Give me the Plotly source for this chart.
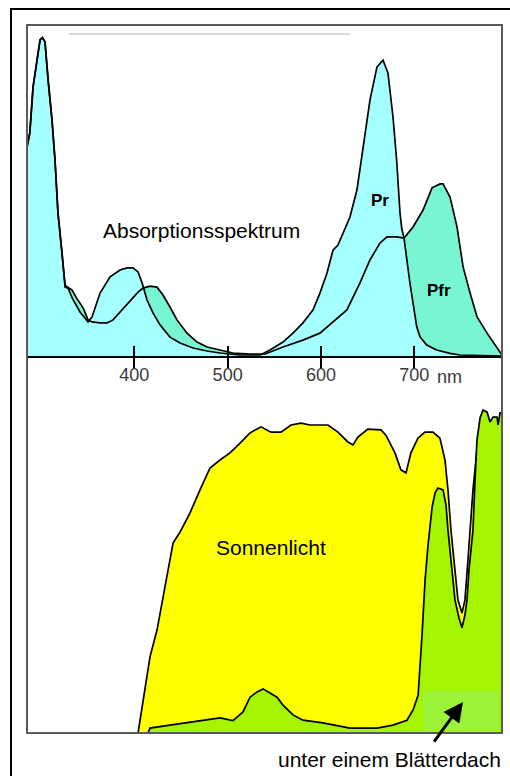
import plotly.graph_objects as go

# ---------------- data (wavelength in nm, relative units) ----------------
pr_nm = [285, 288, 291.5, 295.8, 299, 301.4, 304.3, 307.6, 311.8, 315, 318.2, 322.5, 325.8, 329,
         333.5, 341.8, 350.4, 354.7, 363.3, 374, 384.7, 392.2, 398.6, 404, 408.3, 413.6, 420, 427.5,
         438.2, 449, 462.9, 477.9, 491.8, 513, 535, 545.4, 559.3, 570, 580.7, 591.4, 598.9, 606.5,
         612.9, 618.2, 623.6, 631.1, 638.6, 645, 652.5, 660, 666.5, 671.8, 677.2, 681.1, 684.7,
         686.6, 689, 695.4, 702.6, 706.1, 713.3, 724, 738.3, 749, 794]
pr_val = [63.1, 67.4, 81.3, 90.3, 95.5, 96.2, 94.9, 83.4, 71.3, 59.2, 43.2, 31.1, 20.8, 20.5,
          17.5, 13.3, 10.3, 11.8, 19.0, 23.9, 26.0, 26.6, 26.6, 25.4, 22.1, 16.9, 13.0, 9.4,
          5.7, 3.9, 2.4, 1.5, 0.9, 0.3, 0.3, 1.8, 4.2, 6.9, 10.0, 13.9, 19.0, 25.1,
          32.0, 33.5, 37.2, 42.0, 50.2, 62.2, 77.3, 87.3, 89.4, 85.5, 72.2, 59.2, 43.2,
          38.5, 35.6, 21.9, 8.8, 5.8, 3.3, 1.8, 0.8, 0.3, 0]

pfr_nm = [285, 288, 291.5, 295.8, 299, 301.4, 304.3, 307.6, 311.8, 315, 318.2, 322.5, 325.8, 327.8,
          333.3, 338.3, 341.8, 345.4, 350.4, 354.7, 363.3, 370.8, 377.2, 384.7, 392.2, 398.6, 404,
          409.3, 416.8, 424.3, 430.7, 438.2, 445.7, 456.5, 467.2, 477.9, 491.8, 505.7, 524, 540.3,
          559.3, 580.7, 598.9, 609.6, 627.8, 641.8, 652.5, 663.2, 670.7, 681.4, 689, 698.7, 709.4,
          719, 727.6, 730.8, 738.3, 745.8, 752.3, 759.8, 767.3, 778, 788.7, 794]
pfr_val = [63.1, 67.4, 81.3, 90.3, 95.5, 96.2, 94.9, 83.4, 71.3, 59.2, 43.2, 31.1, 21.5, 20.9,
           19.9, 17.4, 16.0, 14.4, 10.9, 10.3, 10.0, 10.0, 10.9, 13.3, 15.4, 17.5, 19.3,
           20.5, 21.1, 20.8, 18.4, 14.8, 10.9, 6.9, 4.2, 2.7, 1.8, 0.9, 0.6, 0.6,
           2.7, 4.8, 6.9, 9.4, 13.9, 22.1, 29.0, 34.1, 36.0, 36.0, 35.6, 39.0, 44.1,
           50.8, 52.0, 52.0, 48.0, 39.0, 26.9, 19.0, 11.8, 6.9, 2.7, 0.3]

sun_nm = [404.0, 409.3, 416.8, 424.3, 430.7, 435, 438.2, 441.5, 449, 459.7, 470.4, 481.1, 491.8,
          502.5, 513.3, 524, 529.6, 535.8, 546.4, 557.2, 567.9, 578.6, 588.3, 607.5, 618.2, 628.9,
          634.3, 639.6, 650.3, 664.3, 669.6, 679.3, 685.7, 691.1, 696.4, 703.9, 711.4, 720,
          727.5, 732.9, 736.1, 739.3, 743.6, 746.8, 751.1, 754.3, 757.5, 759.7, 762.9, 767.2,
          770.5, 776, 782, 788, 794]
sun_val = [0, 8.8, 20.2, 27.3, 36.1, 42.4, 45.9, 50.4, 53.3, 58.4, 64.5, 70.3, 72.4,
           74.3, 76.9, 79.6, 80.4, 81.2, 79.8, 79.8, 81.7, 82.2, 81.7, 81.7, 79.8, 77.2,
           76.4, 78.5, 80.6, 80.4, 79.0, 74.3, 69.8, 69.0, 74.3, 78.2, 79.8, 79.8,
           78.2, 72.4, 64.5, 53.8, 43.2, 35.3, 31.8, 35.3, 45.9, 53.8, 64.5, 75.1,
           80.9, 80.0, 79.0, 80.0, 80.0]

canopy_nm = [414.7, 416.8, 438.2, 470.4, 491.8, 505.7, 516.5, 524, 531.5, 538, 552.9, 559.3, 570,
             580.7, 602.2, 631.1, 660, 677.2, 692.2, 698.7, 704.1, 708.3, 711.6, 714.8, 719.1,
             722.3, 725.4, 730.8, 734.0, 736.1, 740.4, 743.6, 747.9, 751.1, 754.3, 756.5, 758.6,
             760.8, 762.9, 765.1, 767.2, 770.5, 773.7, 778, 781.2, 784.4, 788.7, 789.8, 791.9, 794]
canopy_val = [0, 1.3, 2.1, 3.3, 4.0, 3.3, 5.6, 9.5, 10.9, 11.7, 9.5, 7.4, 4.8,
              3.4, 2.7, 1.3, 1.3, 2.1, 3.4, 6.1, 10.0, 26.0, 40.6, 50.0, 59.9,
              63.7, 65.0, 64.5, 60.5, 53.8, 43.8, 35.3, 30.5, 27.9, 31.3, 35.3, 43.2,
              48.5, 53.8, 67.1, 77.7, 83.6, 85.7, 85.1, 82.5, 83.8, 83.8, 81.7, 84.9, 84.9]

tick_vals = [400, 500, 600, 700]
tick_text = ["400", "500", "600", "700"]

# ---------------- styling ----------------
FONT = "Liberation Sans, Arial, sans-serif"
C_PR = "#A6FFFF"
C_PFR = "#78F5D2"
C_SUN = "#FFFF00"
C_CAN = "#A6F500"
C_CAN_LIGHT = "#9DF23A"
LW = 1.7
XR = [285, 794]

fig = go.Figure()

# top panel: fills first, then outlines
fig.add_trace(go.Scatter(x=pfr_nm, y=pfr_val, mode="none", fill="tozeroy", fillcolor=C_PFR,
                         xaxis="x", yaxis="y", hoverinfo="skip", showlegend=False))
fig.add_trace(go.Scatter(x=pr_nm, y=pr_val, mode="none", fill="tozeroy", fillcolor=C_PR,
                         xaxis="x", yaxis="y", hoverinfo="skip", showlegend=False))
fig.add_trace(go.Scatter(x=pfr_nm, y=pfr_val, mode="lines", line=dict(color="black", width=LW),
                         xaxis="x", yaxis="y", hoverinfo="skip", showlegend=False))
fig.add_trace(go.Scatter(x=pr_nm, y=pr_val, mode="lines", line=dict(color="black", width=LW),
                         xaxis="x", yaxis="y", hoverinfo="skip", showlegend=False))
# invisible carrier trace for the overlaid inner-tick axis
fig.add_trace(go.Scatter(x=pr_nm, y=pr_val, mode="lines", line=dict(width=0), opacity=0,
                         xaxis="x3", yaxis="y", hoverinfo="skip", showlegend=False))

# bottom panel
fig.add_trace(go.Scatter(x=sun_nm, y=sun_val, mode="lines", fill="tozeroy", fillcolor=C_SUN,
                         line=dict(color="black", width=LW),
                         xaxis="x2", yaxis="y2", hoverinfo="skip", showlegend=False))
fig.add_trace(go.Scatter(x=canopy_nm, y=canopy_val, mode="lines", fill="tozeroy", fillcolor=C_CAN,
                         line=dict(color="black", width=LW),
                         xaxis="x2", yaxis="y2", hoverinfo="skip", showlegend=False))

TOP_DOM = [0.5325, 1.0]
BOT_DOM = [0.0, 0.5325]

fig.update_layout(
    width=510, height=776,
    margin=dict(l=27, r=8, t=25, b=43, pad=0),
    paper_bgcolor="white", plot_bgcolor="white",
    font=dict(family=FONT, color="black"),
    xaxis=dict(domain=[0, 1], range=XR, anchor="y", showgrid=False, zeroline=False,
               showline=True, linecolor="black", linewidth=2,
               ticks="outside", ticklen=11, tickwidth=2, tickcolor="black",
               tickvals=tick_vals, showticklabels=False),
    xaxis3=dict(domain=[0, 1], range=XR, anchor="y", overlaying="x", showgrid=False,
                zeroline=False, showline=False, ticks="inside", ticklen=10, tickwidth=2,
                tickcolor="black", tickvals=tick_vals, ticktext=tick_text,
                showticklabels=True, ticklabelstandoff=6,
                tickfont=dict(family=FONT, size=18, color="#3a3a3a")),
    yaxis=dict(domain=TOP_DOM, range=[0, 100], visible=False, fixedrange=True),
    xaxis2=dict(domain=[0, 1], range=XR, anchor="y2", visible=False),
    yaxis2=dict(domain=BOT_DOM, range=[0, 100], visible=False),
)

# frames and decorative lines
fig.add_shape(type="rect", xref="paper", yref="paper", x0=-0.0337, x1=1.03, y0=-0.08, y1=1.0226,
              line=dict(color="black", width=2), fillcolor="rgba(0,0,0,0)", layer="above")
fig.add_shape(type="rect", xref="paper", yref="paper", x0=0, x1=1, y0=0, y1=1,
              line=dict(color="#5a5a5a", width=2), fillcolor="rgba(0,0,0,0)", layer="above")
fig.add_shape(type="line", xref="paper", yref="paper", x0=0.0884, x1=0.68, y0=0.9873, y1=0.9873,
              line=dict(color="#b0b0b0", width=1), layer="above")
# lighter patch under the arrow
fig.add_shape(type="rect", xref="paper", yref="paper",
              x0=(423 - 27) / 475, x1=(499 - 27) / 475, y0=(733 - 730) / 708, y1=(733 - 691) / 708,
              line=dict(width=0), fillcolor=C_CAN_LIGHT, layer="above")

# texts
fig.add_annotation(x=472.5, y=37.8, xref="x", yref="y", text="Absorptionsspektrum",
                   showarrow=False, xanchor="center", font=dict(family=FONT, size=21, color="black"))
fig.add_annotation(x=663.2, y=47.1, xref="x", yref="y", text="<b>Pr</b>",
                   showarrow=False, xanchor="center", font=dict(family=FONT, size=17, color="black"))
fig.add_annotation(x=726.5, y=19.9, xref="x", yref="y", text="<b>Pfr</b>",
                   showarrow=False, xanchor="center", font=dict(family=FONT, size=17, color="black"))
fig.add_annotation(x=738.2, y=(733 - 377) / 708, xref="x", yref="paper", text="nm",
                   showarrow=False, xanchor="center", yanchor="middle",
                   font=dict(family=FONT, size=18, color="#3a3a3a"))
fig.add_annotation(x=546.5, y=49.1, xref="x2", yref="y2", text="Sonnenlicht",
                   showarrow=False, xanchor="center", font=dict(family=FONT, size=21, color="black"))
fig.add_annotation(x=(389.5 - 27) / 475, y=(733 - 759) / 708, xref="paper", yref="paper",
                   text="unter einem Blätterdach", showarrow=False, xanchor="center",
                   yanchor="middle", font=dict(family=FONT, size=21, color="black"))
fig.add_annotation(x=752.2, y=8.2, xref="x2", yref="y2", text="", showarrow=True,
                   ax=-30, ay=41, arrowhead=2, arrowsize=1.3, arrowwidth=3, arrowcolor="black")

fig.write_html("out.html")
